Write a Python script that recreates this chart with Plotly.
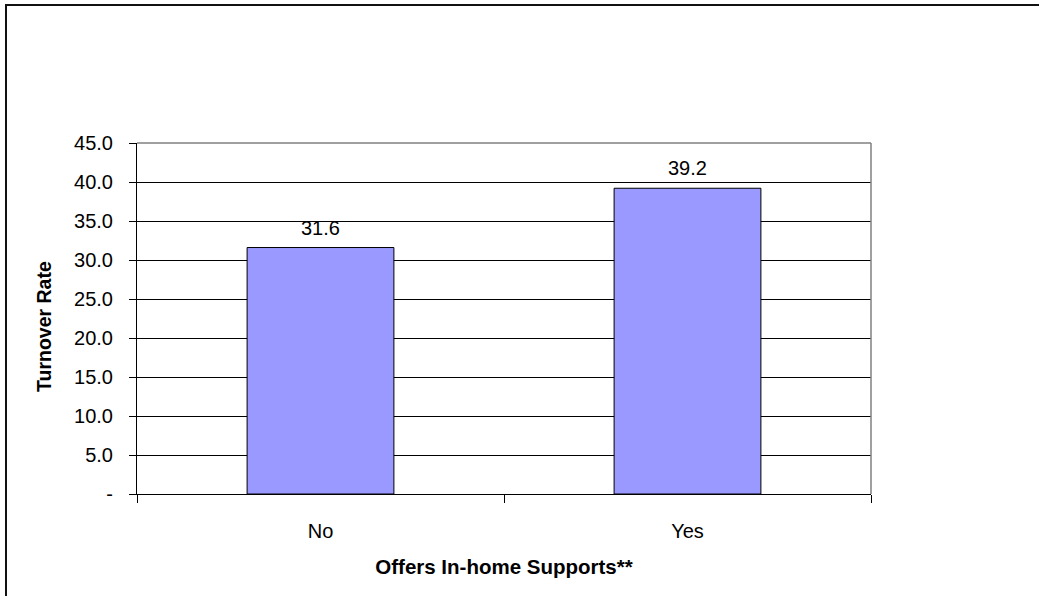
import plotly.graph_objects as go

categories = ["No", "Yes"]
turnover = [31.6, 39.2]
y_tickvals = [0, 5, 10, 15, 20, 25, 30, 35, 40, 45]
y_ticktext = ["-", "5.0", "10.0", "15.0", "20.0", "25.0", "30.0", "35.0", "40.0", "45.0"]
label_text = ["31.6", "39.2"]
y_title = "Turnover Rate"
x_title = "Offers In-home Supports**"

FONT = "Liberation Sans, Arial, sans-serif"

fig = go.Figure()
fig.add_trace(go.Bar(
    x=categories, y=turnover,
    marker=dict(color="#9999FF", line=dict(color="#000000", width=1)),
    width=0.4,
    hoverinfo="skip",
))

for c, v, t in zip(categories, turnover, label_text):
    fig.add_annotation(x=c, y=v, text=t, showarrow=False, yanchor="bottom",
                       yshift=7, font=dict(family=FONT, size=20, color="#000"))

# y-axis title placed as annotation for precise position
fig.add_annotation(xref="paper", yref="paper", x=(44 - 137) / 734, y=(494 - 326) / 351,
                   text="<b>" + y_title + "</b>", textangle=-90, showarrow=False,
                   xanchor="center", yanchor="middle",
                   font=dict(family=FONT, size=19.5, color="#000"))

fig.update_layout(
    width=1039, height=596,
    margin=dict(l=137, r=168, t=143, b=102),
    paper_bgcolor="white", plot_bgcolor="white",
    showlegend=False,
    font=dict(family=FONT, size=20, color="#000"),
    bargap=0.6,
)

fig.update_yaxes(
    range=[0, 45], tickvals=y_tickvals, ticktext=y_ticktext,
    showgrid=True, gridcolor="#000000", gridwidth=1,
    showline=True, linecolor="#000000", linewidth=1,
    ticks="outside", ticklen=7, tickcolor="#000000", tickwidth=1,
    ticklabelstandoff=12,
    zeroline=False,
)
fig.update_xaxes(
    showline=True, linecolor="#000000", linewidth=1,
    ticks="outside", ticklen=8, tickcolor="#000000", tickwidth=1,
    tickson="boundaries", ticklabelstandoff=19,
    title=dict(text="<b>" + x_title + "</b>", font=dict(family=FONT, size=20.5), standoff=18),
)

# plot area border (top and right, gray)
fig.add_shape(type="line", xref="paper", yref="paper", x0=0, x1=1, y0=1, y1=1,
              line=dict(color="#808080", width=1.5))
fig.add_shape(type="line", xref="paper", yref="paper", x0=1, x1=1, y0=0, y1=1,
              line=dict(color="#808080", width=1.5))
# outer chart border
fig.add_shape(type="rect", xref="paper", yref="paper",
              x0=(6 - 137) / 734, x1=1.5, y0=-0.5, y1=(494 - 5) / 351,
              line=dict(color="#111111", width=2), fillcolor="rgba(0,0,0,0)", layer="below")

fig.write_html("out.html")
